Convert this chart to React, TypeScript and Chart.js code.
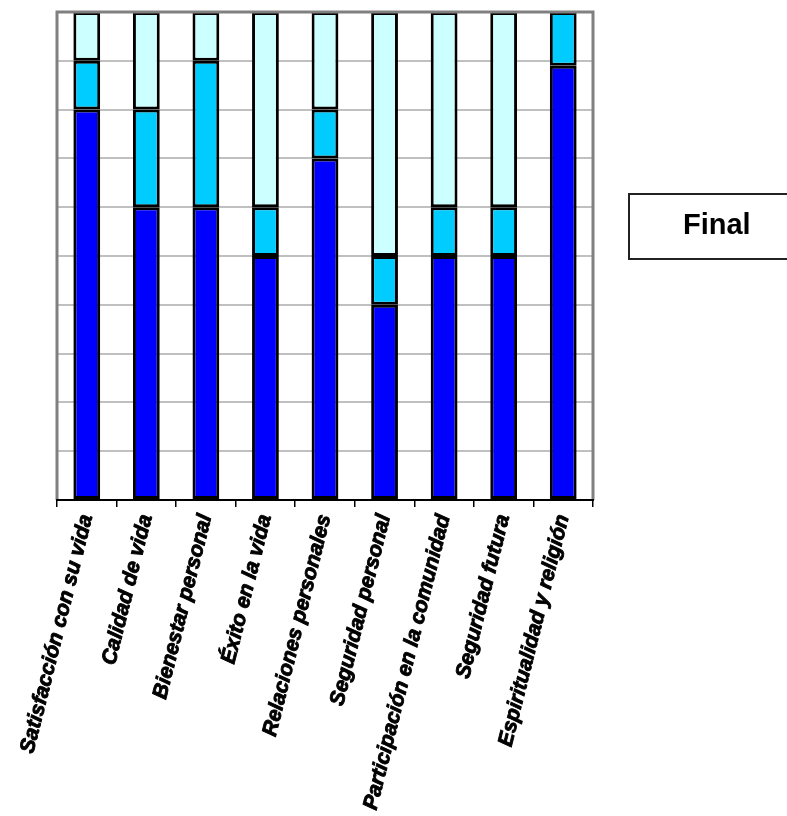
import React, { useEffect, useRef } from "react";
import { Chart, registerables } from "chart.js";

Chart.register(...registerables);

const categories = [
  "Satisfacción con su vida",
  "Calidad de vida",
  "Bienestar personal",
  "Éxito en la vida",
  "Relaciones personales",
  "Seguridad personal",
  "Participación en la comunidad",
  "Seguridad futura",
  "Espiritualidad y religión",
];
const seriesA = [80, 60, 60, 50, 70, 40, 50, 50, 89];
const seriesB = [10, 20, 30, 10, 10, 10, 10, 10, 11];
const seriesC = [10, 20, 10, 40, 20, 50, 40, 40, 0];
const legendLabel = "Final";

const FONT = "'Liberation Sans', Arial, sans-serif";

const frame = {
  id: "frame",
  afterDatasetsDraw(chart: any) {
    const { ctx, chartArea: a } = chart;
    ctx.save();
    ctx.strokeStyle = "#808080";
    ctx.lineWidth = 3;
    ctx.beginPath();
    ctx.moveTo(a.left, a.bottom);
    ctx.lineTo(a.left, a.top);
    ctx.lineTo(a.right, a.top);
    ctx.lineTo(a.right, a.bottom);
    ctx.stroke();
    ctx.strokeStyle = "#000";
    ctx.lineWidth = 2;
    ctx.beginPath();
    ctx.moveTo(a.left - 1, a.bottom);
    ctx.lineTo(a.right + 1, a.bottom);
    ctx.stroke();
    ctx.restore();
  },
};

export default function App() {
  const ref = useRef<HTMLCanvasElement>(null);
  useEffect(() => {
    const mk = (data: number[], color: string) => ({
      data,
      backgroundColor: color,
      borderColor: "#000",
      borderWidth: 3,
      borderSkipped: false as const,
      barPercentage: 0.45,
      categoryPercentage: 1,
    });
    const chart = new Chart(ref.current!, {
      type: "bar",
      data: {
        labels: categories,
        datasets: [
          mk(seriesA, "#0000FF"),
          mk(seriesB, "#00CCFF"),
          mk(seriesC, "#CCFFFF"),
        ],
      },
      options: {
        animation: false,
        responsive: false,
        layout: { padding: { left: 57, top: 12, right: 194, bottom: 0 } },
        plugins: { legend: { display: false }, tooltip: { enabled: false } },
        scales: {
          x: {
            stacked: true,
            grid: {
              drawOnChartArea: false,
              color: "#000",
              tickLength: 7,
              lineWidth: 1.5,
              offset: true,
            },
            border: { display: false },
            ticks: {
              minRotation: 76,
              maxRotation: 76,
              autoSkip: false,
              color: "#000",
              textStrokeColor: "#000",
              textStrokeWidth: 0.9,
              padding: 5,
              font: {
                family: FONT,
                size: 21,
                weight: 700,
                style: "italic",
              },
            },
            afterFit: (s: any) => {
              s.height = 316;
            },
          },
          y: {
            stacked: true,
            min: 0,
            max: 100,
            ticks: { display: false, stepSize: 10 },
            grid: { color: "#c0c0c0", lineWidth: 2, drawTicks: false },
            border: { display: false },
            afterFit: (s: any) => {
              s.width = 0;
            },
          },
        },
      },
      plugins: [frame],
    });
    return () => chart.destroy();
  }, []);
  return (
    <div style={{ position: "fixed", left: 0, top: 0, width: 787, height: 816, background: "#fff" }}>
      <canvas ref={ref} width={787} height={816} style={{ display: "block" }} />
      <div
        style={{
          position: "absolute",
          left: 628,
          top: 193,
          width: 170,
          height: 67,
          border: "2px solid #222",
          boxSizing: "border-box",
          fontFamily: FONT,
          fontWeight: "bold",
          fontSize: 29,
          lineHeight: "58px",
          paddingLeft: 53,
          color: "#000",
        }}
      >
        {legendLabel}
      </div>
    </div>
  );
}
